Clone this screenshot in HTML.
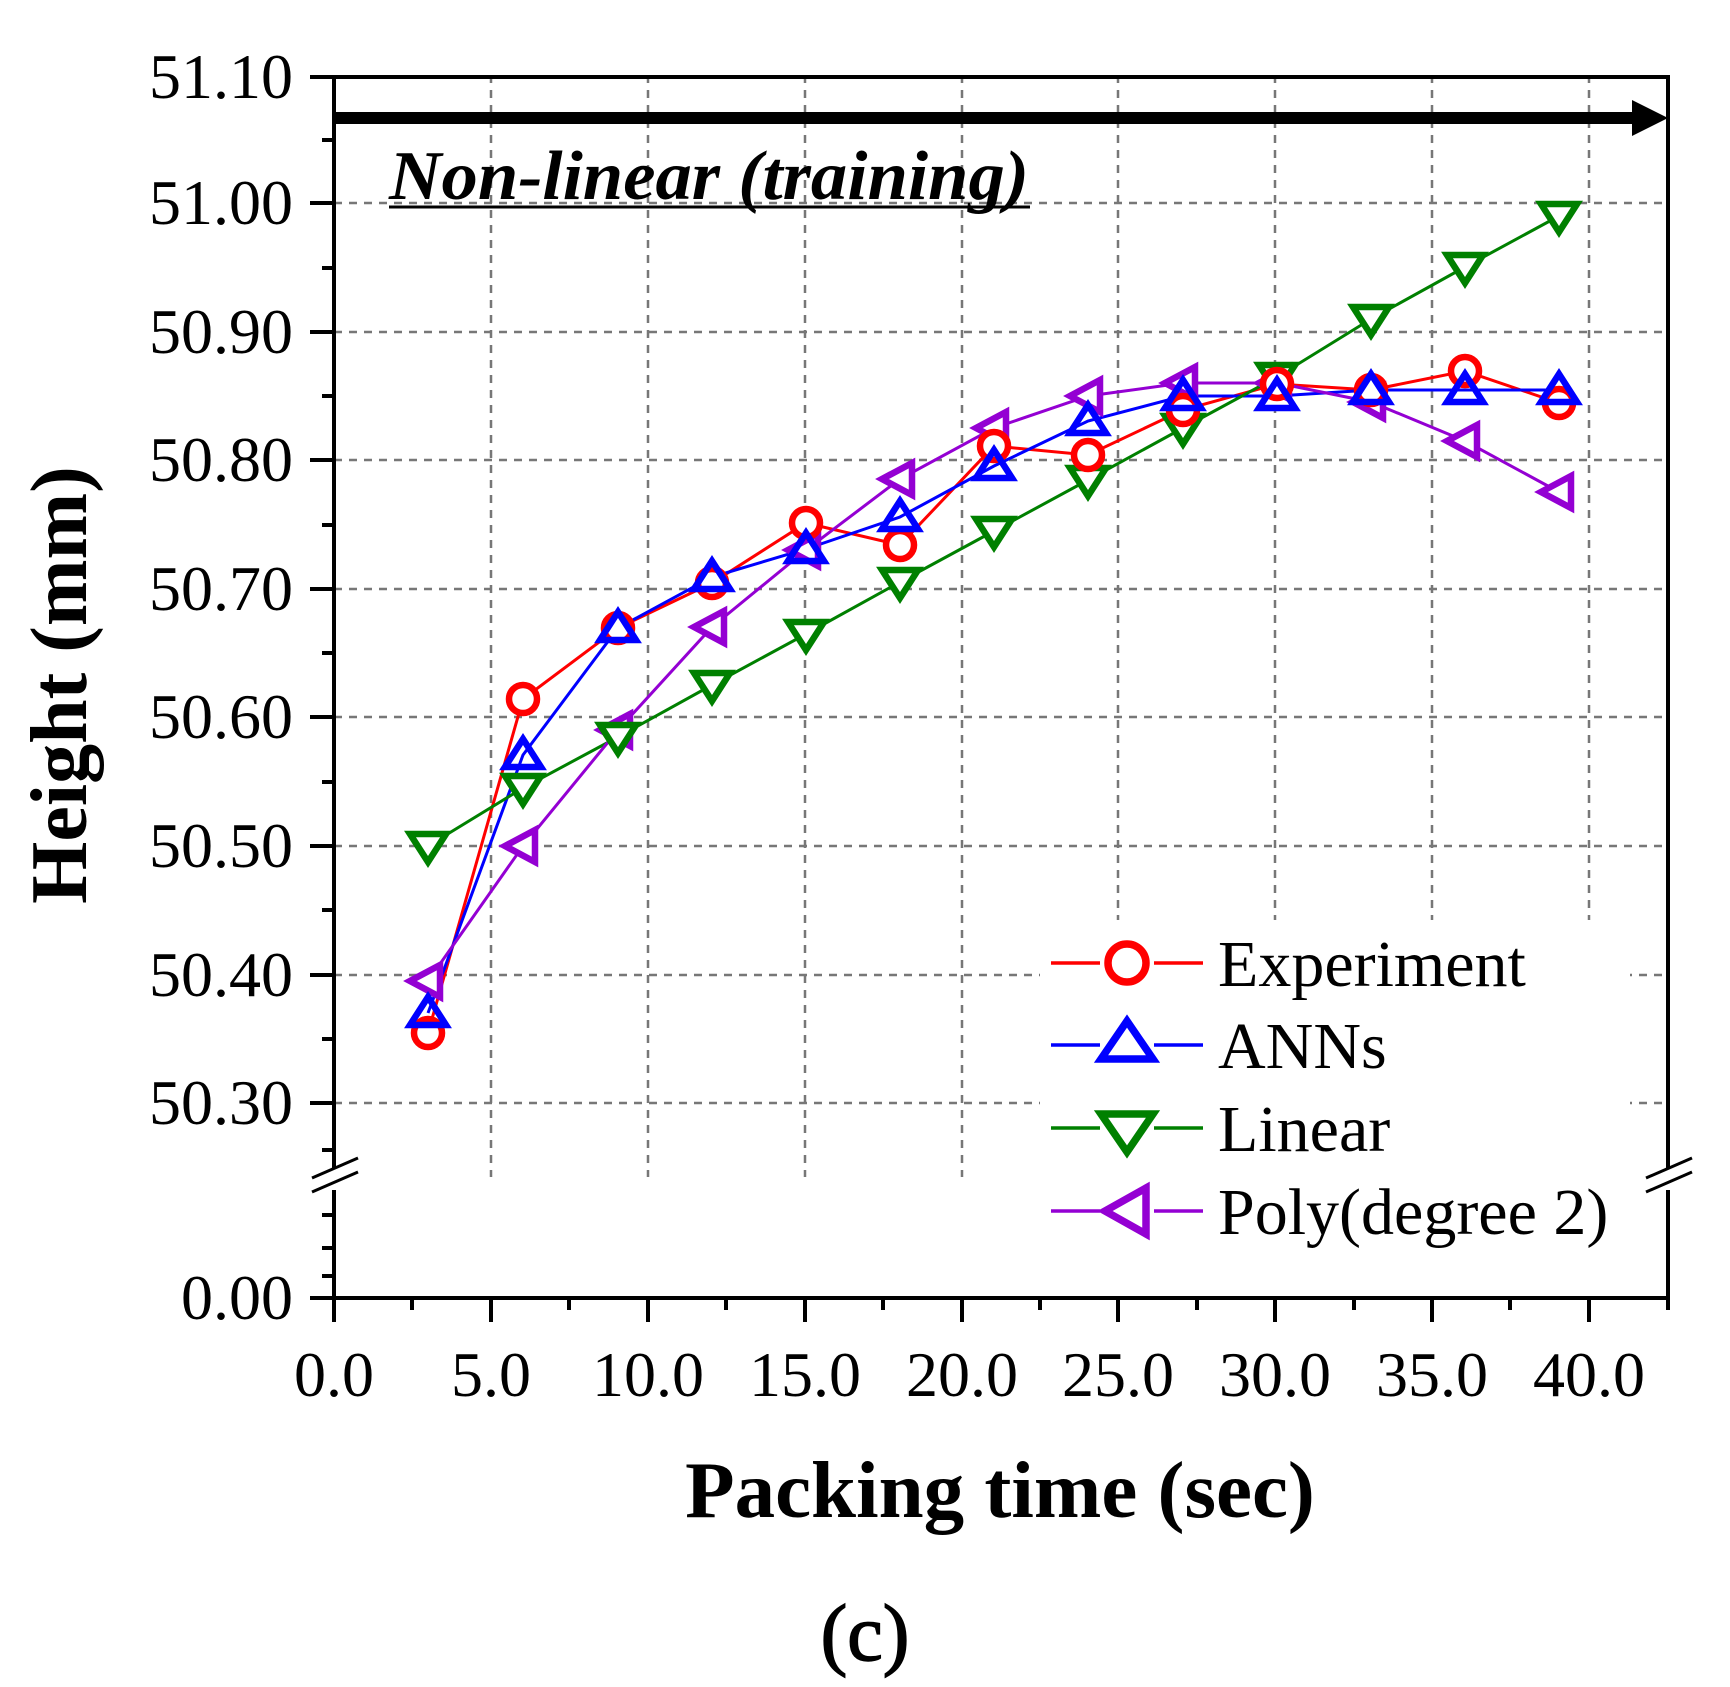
<!DOCTYPE html>
<html><head><meta charset="utf-8"><style>
html,body{margin:0;padding:0;background:#fff;}
svg{display:block;}
text{font-family:"Liberation Serif",serif;}
</style></head><body>
<svg width="1730" height="1687" viewBox="0 0 1730 1687" xmlns="http://www.w3.org/2000/svg">
<g stroke="#777" stroke-width="2.5" stroke-dasharray="8,7">
<line x1="491" y1="75" x2="491" y2="1177"/><line x1="648" y1="75" x2="648" y2="1177"/><line x1="805" y1="75" x2="805" y2="1177"/><line x1="962" y1="75" x2="962" y2="1177"/><line x1="1118" y1="75" x2="1118" y2="1177"/><line x1="1275" y1="75" x2="1275" y2="1177"/><line x1="1432" y1="75" x2="1432" y2="1177"/><line x1="1589" y1="75" x2="1589" y2="1177"/>
<line x1="334" y1="203" x2="1668" y2="203"/><line x1="334" y1="332" x2="1668" y2="332"/><line x1="334" y1="460" x2="1668" y2="460"/><line x1="334" y1="589" x2="1668" y2="589"/><line x1="334" y1="717" x2="1668" y2="717"/><line x1="334" y1="846" x2="1668" y2="846"/><line x1="334" y1="975" x2="1668" y2="975"/><line x1="334" y1="1103" x2="1668" y2="1103"/>
</g>
<rect x="1040" y="920" width="590" height="330" fill="#fff"/>
<g stroke="#000" stroke-width="4" fill="none">
<rect x="334" y="77" width="1334" height="1221"/>
<line x1="310" y1="77" x2="334" y2="77"/>
<line x1="310" y1="203" x2="334" y2="203"/><line x1="310" y1="332" x2="334" y2="332"/><line x1="310" y1="460" x2="334" y2="460"/><line x1="310" y1="589" x2="334" y2="589"/><line x1="310" y1="717" x2="334" y2="717"/><line x1="310" y1="846" x2="334" y2="846"/><line x1="310" y1="975" x2="334" y2="975"/><line x1="310" y1="1103" x2="334" y2="1103"/><line x1="310" y1="1298" x2="334" y2="1298"/>
<line x1="322" y1="140" x2="334" y2="140"/><line x1="322" y1="268" x2="334" y2="268"/><line x1="322" y1="396" x2="334" y2="396"/><line x1="322" y1="525" x2="334" y2="525"/><line x1="322" y1="653" x2="334" y2="653"/><line x1="322" y1="782" x2="334" y2="782"/><line x1="322" y1="910" x2="334" y2="910"/><line x1="322" y1="1039" x2="334" y2="1039"/><line x1="322" y1="1150" x2="334" y2="1150"/><line x1="322" y1="1215" x2="334" y2="1215"/><line x1="322" y1="1248" x2="334" y2="1248"/><line x1="322" y1="1276" x2="334" y2="1276"/>
<line x1="334" y1="1298" x2="334" y2="1322"/><line x1="491" y1="1298" x2="491" y2="1322"/><line x1="648" y1="1298" x2="648" y2="1322"/><line x1="805" y1="1298" x2="805" y2="1322"/><line x1="962" y1="1298" x2="962" y2="1322"/><line x1="1118" y1="1298" x2="1118" y2="1322"/><line x1="1275" y1="1298" x2="1275" y2="1322"/><line x1="1432" y1="1298" x2="1432" y2="1322"/><line x1="1589" y1="1298" x2="1589" y2="1322"/>
<line x1="412" y1="1298" x2="412" y2="1310"/><line x1="569" y1="1298" x2="569" y2="1310"/><line x1="726" y1="1298" x2="726" y2="1310"/><line x1="883" y1="1298" x2="883" y2="1310"/><line x1="1040" y1="1298" x2="1040" y2="1310"/><line x1="1197" y1="1298" x2="1197" y2="1310"/><line x1="1354" y1="1298" x2="1354" y2="1310"/><line x1="1510" y1="1298" x2="1510" y2="1310"/><line x1="1668" y1="1298" x2="1668" y2="1310"/>
</g>
<rect x="320" y="1168" width="30" height="22" fill="#fff"/>
<rect x="1654" y="1168" width="30" height="22" fill="#fff"/>
<g stroke="#000" stroke-width="3">
<line x1="312" y1="1178" x2="358" y2="1158"/><line x1="312" y1="1192" x2="358" y2="1172"/>
<line x1="1646" y1="1178" x2="1692" y2="1158"/><line x1="1646" y1="1192" x2="1692" y2="1172"/>
</g>
<line x1="334" y1="118" x2="1640" y2="118" stroke="#000" stroke-width="12"/>
<polygon points="1632,100 1668,118 1632,136" fill="#000"/>
<text x="389" y="199" font-size="70" font-weight="bold" font-style="italic" textLength="640" lengthAdjust="spacingAndGlyphs">Non-linear (training)</text>
<line x1="389" y1="207" x2="1030" y2="207" stroke="#000" stroke-width="3"/>
<g font-size="64" text-anchor="end">
<text x="293" y="98">51.10</text><text x="293" y="224">51.00</text><text x="293" y="353">50.90</text><text x="293" y="481">50.80</text><text x="293" y="610">50.70</text><text x="293" y="738">50.60</text><text x="293" y="867">50.50</text><text x="293" y="996">50.40</text><text x="293" y="1124">50.30</text><text x="293" y="1319">0.00</text>
</g>
<g font-size="64" text-anchor="middle">
<text x="334" y="1396">0.0</text><text x="491" y="1396">5.0</text><text x="648" y="1396">10.0</text><text x="805" y="1396">15.0</text><text x="962" y="1396">20.0</text><text x="1118" y="1396">25.0</text><text x="1275" y="1396">30.0</text><text x="1432" y="1396">35.0</text><text x="1589" y="1396">40.0</text>
</g>
<text x="1000" y="1517" font-size="81" font-weight="bold" text-anchor="middle">Packing time (sec)</text>
<text transform="translate(86,685) rotate(-90)" font-size="80" font-weight="bold" text-anchor="middle">Height (mm)</text>
<text x="865" y="1660" font-size="80" text-anchor="middle" stroke="#000" stroke-width="1.5">(c)</text>
<g fill="none" stroke-width="3">
<polyline stroke="#ff0000" points="428,1033 523,699 618,628 712,583 806,523 900,545 994,446 1088,455 1183,410 1277,384 1371,390 1465,371 1559,403"/>
<polyline stroke="#0000ff" points="428,1013 523,755 618,628 712,577 806,549 900,517 994,466 1088,421 1183,396 1277,396 1371,390 1465,390 1559,390"/>
<polyline stroke="#008000" points="428,846 523,788 618,737 712,685 806,634 900,582 994,531 1088,480 1183,428 1277,377 1371,319 1465,267 1559,216"/>
<polyline stroke="#9400d3" points="428,981 523,846 618,730 712,627 806,550 900,479 994,428 1088,396 1183,383 1277,383 1371,402 1465,441 1559,492"/>
</g>
<g fill="#fff" stroke-width="6.5">
<g stroke="#9400d3">
<polygon points="410,981 440,965 440,997"/><polygon points="505,846 535,830 535,862"/><polygon points="600,730 630,714 630,746"/><polygon points="694,627 724,611 724,643"/><polygon points="788,550 818,534 818,566"/><polygon points="882,479 912,463 912,495"/><polygon points="976,428 1006,412 1006,444"/><polygon points="1070,396 1100,380 1100,412"/><polygon points="1165,383 1195,367 1195,399"/><polygon points="1259,383 1289,367 1289,399"/><polygon points="1353,402 1383,386 1383,418"/><polygon points="1447,441 1477,425 1477,457"/><polygon points="1541,492 1571,476 1571,508"/>
</g>
<g stroke="#008000">
<polygon points="410,834 446,834 428,862"/><polygon points="505,776 541,776 523,804"/><polygon points="600,725 636,725 618,753"/><polygon points="694,673 730,673 712,701"/><polygon points="788,622 824,622 806,650"/><polygon points="882,570 918,570 900,598"/><polygon points="976,519 1012,519 994,547"/><polygon points="1070,468 1106,468 1088,496"/><polygon points="1165,416 1201,416 1183,444"/><polygon points="1259,365 1295,365 1277,393"/><polygon points="1353,307 1389,307 1371,335"/><polygon points="1447,255 1483,255 1465,283"/><polygon points="1541,204 1577,204 1559,232"/>
</g>
<g stroke="#ff0000">
<circle cx="428" cy="1033" r="14"/><circle cx="523" cy="699" r="14"/><circle cx="618" cy="628" r="14"/><circle cx="712" cy="583" r="14"/><circle cx="806" cy="523" r="14"/><circle cx="900" cy="545" r="14"/><circle cx="994" cy="446" r="14"/><circle cx="1088" cy="455" r="14"/><circle cx="1183" cy="410" r="14"/><circle cx="1277" cy="384" r="14"/><circle cx="1371" cy="390" r="14"/><circle cx="1465" cy="371" r="14"/><circle cx="1559" cy="403" r="14"/>
</g>
<g stroke="#0000ff" fill="none">
<polygon points="410,1025 446,1025 428,997"/><polygon points="505,767 541,767 523,739"/><polygon points="600,640 636,640 618,612"/><polygon points="694,589 730,589 712,561"/><polygon points="788,561 824,561 806,533"/><polygon points="882,529 918,529 900,501"/><polygon points="976,478 1012,478 994,450"/><polygon points="1070,433 1106,433 1088,405"/><polygon points="1165,408 1201,408 1183,380"/><polygon points="1259,408 1295,408 1277,380"/><polygon points="1353,402 1389,402 1371,374"/><polygon points="1447,402 1483,402 1465,374"/><polygon points="1541,402 1577,402 1559,374"/>
</g>
</g>
<g stroke-width="3.5">
<line x1="1051" y1="963" x2="1100" y2="963" stroke="#ff0000"/><line x1="1154" y1="963" x2="1203" y2="963" stroke="#ff0000"/>
<line x1="1051" y1="1045" x2="1100" y2="1045" stroke="#0000ff"/><line x1="1154" y1="1045" x2="1203" y2="1045" stroke="#0000ff"/>
<line x1="1051" y1="1128" x2="1100" y2="1128" stroke="#008000"/><line x1="1154" y1="1128" x2="1203" y2="1128" stroke="#008000"/>
<line x1="1051" y1="1211" x2="1100" y2="1211" stroke="#9400d3"/><line x1="1154" y1="1211" x2="1203" y2="1211" stroke="#9400d3"/>
</g>
<g fill="#fff" stroke-width="7.5">
<circle cx="1127" cy="963" r="19" stroke="#ff0000"/>
<polygon points="1101,1059 1153,1059 1127,1021" stroke="#0000ff"/>
<polygon points="1101,1114 1153,1114 1127,1152" stroke="#008000"/>
<polygon points="1105,1211 1146,1188 1146,1234" stroke="#9400d3"/>
</g>
<g font-size="66">
<text x="1218" y="986">Experiment</text>
<text x="1218" y="1068">ANNs</text>
<text x="1218" y="1151">Linear</text>
<text x="1218" y="1234">Poly(degree 2)</text>
</g>
</svg>
</body></html>
